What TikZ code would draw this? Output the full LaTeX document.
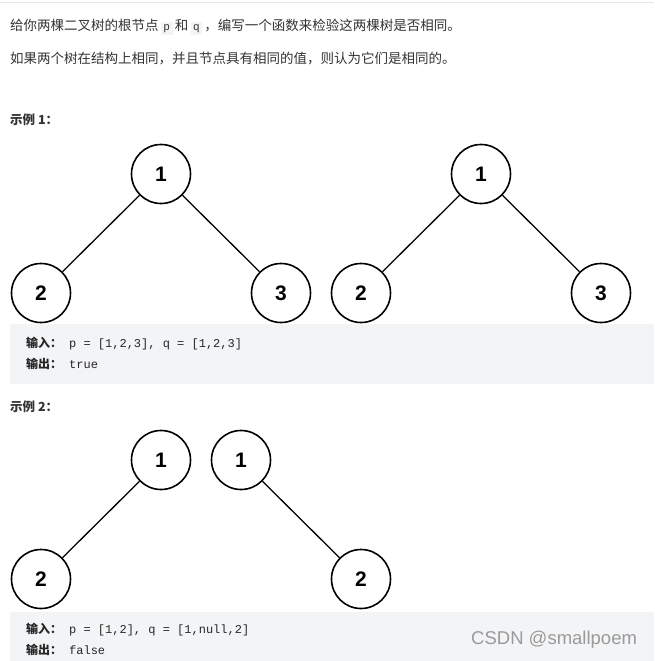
\documentclass[tikz,border=0pt]{standalone}
\usepackage{fontspec}
\setmainfont{Noto Sans CJK SC}
\setmonofont{Liberation Mono}
\newfontfamily\numfont{Liberation Sans}
\usetikzlibrary{positioning}
\definecolor{boxgray}{HTML}{F3F4F6}
\definecolor{rulegray}{HTML}{E6E6E6}
\definecolor{textgray}{HTML}{333333}
\definecolor{markgray}{HTML}{9A9A9A}
\newcommand{\icode}[1]{{\setlength{\fboxsep}{2.5pt}\colorbox{boxgray}{\ttfamily\fontsize{11}{11}\selectfont #1}}}
\tikzset{
    treenode/.style={circle, draw=black, line width=1.6pt, minimum size=59pt, inner sep=0pt, fill=white, font=\numfont\bfseries\fontsize{21}{21}\selectfont},
    edge/.style={line width=1.3pt},
    para/.style={anchor=west, inner sep=0pt, text=textgray, font=\fontsize{13.5}{16}\selectfont},
    heading/.style={anchor=west, inner sep=0pt, text=textgray, font=\bfseries\fontsize{12.5}{15}\selectfont},
    codebox/.style={rectangle, fill=boxgray, anchor=north west, inner sep=0pt, minimum width=644pt},
    codeline/.style={anchor=west, inner sep=0pt, text=black!85, font=\fontsize{12}{14}\selectfont},
}

\begin{document}
\begin{tikzpicture}[x=1pt, y=-1pt, node distance=119pt and 120pt, on grid]
        \useasboundingbox (0,0) rectangle (654,661);
        \draw[rulegray, line width=1pt] (0,3) -- (654,3);

        % Text
        \node[para] (intro) at (10,27) {给你两棵二叉树的根节点\,\icode{p}\,和\,\icode{q}\,，编写一个函数来检验这两棵树是否相同。};
        \node[para] (rule) at (10,59) {如果两个树在结构上相同，并且节点具有相同的值，则认为它们是相同的。};
        \node[heading] (ex1) at (10,120) {示例 1：};

        % Example 1 trees
        \node[treenode] (pa) at (161,174) {1};
        \node[treenode, below left=of pa] (pb) {2};
        \node[treenode, below right=of pa] (pc) {3};
        \node[treenode] (qa) at (481,174) {1};
        \node[treenode, below left=of qa] (qb) {2};
        \node[treenode, below right=of qa] (qc) {3};
        \draw[edge] (pa) -- (pb);
        \draw[edge] (pa) -- (pc);
        \draw[edge] (qa) -- (qb);
        \draw[edge] (qa) -- (qc);

        \node[codebox, minimum height=60pt] (box1) at (10,324) {};
        \node[codeline] (in1) at (26,344) {{\bfseries 输入：}\hspace{7pt}\texttt{p = [1,2,3], q = [1,2,3]}};
        \node[codeline] (out1) at (26,364) {{\bfseries 输出：}\hspace{7pt}\texttt{true}};

        \node[heading] (ex2) at (10,407) {示例 2：};

        % Example 2 trees
        \node[treenode] (ra) at (161,460) {1};
        \node[treenode, below left=of ra] (rb) {2};
        \node[treenode] (sa) at (241,460) {1};
        \node[treenode, below right=of sa] (sb) {2};
        \draw[edge] (ra) -- (rb);
        \draw[edge] (sa) -- (sb);

        \node[codebox, minimum height=49pt] (box2) at (10,612) {};
        \node[codeline] (in2) at (26,630) {{\bfseries 输入：}\hspace{7pt}\texttt{p = [1,2], q = [1,null,2]}};
        \node[codeline] (out2) at (26,650) {{\bfseries 输出：}\hspace{7pt}\texttt{false}};
        \node[anchor=west, inner sep=0pt, text=markgray, font=\numfont\fontsize{18.5}{18.5}\selectfont] (mark) at (471,640) {CSDN @smallpoem};
    \end{tikzpicture}
\end{document}
